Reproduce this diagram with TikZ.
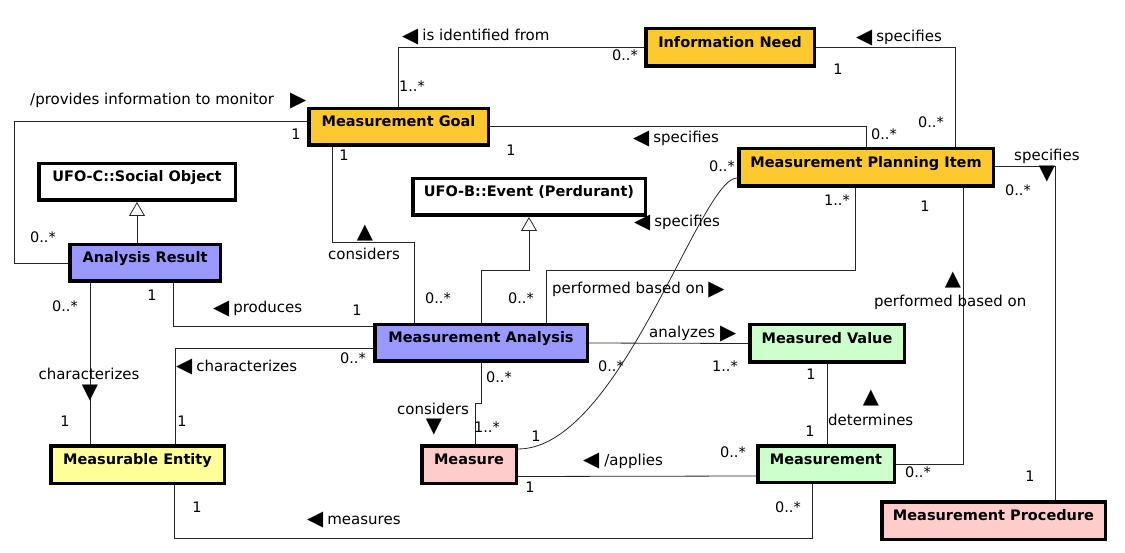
\documentclass[tikz,border=0pt]{standalone}
\usepackage{fontspec}
\setmainfont{DejaVu Sans}
\usetikzlibrary{arrows.meta}

\definecolor{goalorange}{RGB}{254,201,46}
\definecolor{analysisblue}{RGB}{153,153,255}
\definecolor{valuegreen}{RGB}{204,255,204}
\definecolor{measurepink}{RGB}{255,204,204}
\definecolor{entityyellow}{RGB}{255,255,153}

\newcommand\tril{\raisebox{-1.5pt}{\fontsize{21}{21}\selectfont ◀}}
\newcommand\trir{\raisebox{-1.5pt}{\fontsize{21}{21}\selectfont ▶}}
\newcommand\triu{{\fontsize{21}{21}\selectfont ▲}}
\newcommand\trid{{\fontsize{21}{21}\selectfont ▼}}

\tikzset{
  cls/.style={draw, line width=3.5pt, inner sep=0pt,
    font=\fontsize{14.5}{17}\selectfont\bfseries, text height=6pt, text depth=6pt},
  assoc/.style={draw=black!85, line width=0.8pt},
  gen/.style={assoc, -{Triangle[open, fill=white, width=16pt, length=14pt]}},
  lbl/.style={inner sep=0pt, font=\fontsize{15}{18}\selectfont, text height=11pt, text depth=3pt},
  mult/.style={lbl, font=\fontsize{14.5}{17}\selectfont},
  tri/.style={inner sep=0pt}
}

\begin{document}
\begin{tikzpicture}[x=1pt, y=-1pt]
  \useasboundingbox (0,0) rectangle (1125,553);

  % classes
  \node[cls, fill=goalorange, minimum width=168.5, minimum height=37.5] (infoneed) at (730,47.5) {Information Need};
  \node[cls, fill=goalorange, minimum width=179.5, minimum height=36.5] (mgoal) at (398.5,127) {Measurement Goal};
  \node[cls, fill=goalorange, minimum width=254.5, minimum height=37.5] (mpi) at (866,167.5) {Measurement Planning Item};
  \node[cls, fill=white, minimum width=196.5, minimum height=36.5] (socobj) at (137,182) {UFO-C::Social Object};
  \node[cls, fill=white, minimum width=232.5, minimum height=36.5] (event) at (529,197) {UFO-B::Event (Perdurant)};
  \node[cls, fill=analysisblue, minimum width=150.5, minimum height=36.5] (aresult) at (145,263) {Analysis Result};
  \node[cls, fill=analysisblue, minimum width=212.5, minimum height=36.5] (manalysis) at (481,343) {Measurement Analysis};
  \node[cls, fill=valuegreen, minimum width=154.5, minimum height=37.5] (mvalue) at (827,343.5) {Measured Value};
  \node[cls, fill=entityyellow, minimum width=173.5, minimum height=37.5] (mentity) at (137.5,464.5) {Measurable Entity};
  \node[cls, fill=measurepink, minimum width=94.5, minimum height=37.5] (measure) at (469,464.5) {Measure};
  \node[cls, fill=valuegreen, minimum width=136.5, minimum height=36.5] (measurement) at (826,464) {Measurement};
  \node[cls, fill=measurepink, minimum width=223.5, minimum height=37.5] (mproc) at (993.5,520.5) {Measurement Procedure};

  % associations
  \draw[assoc] (mgoal.north) |- (infoneed.west);
  \draw[assoc] (infoneed.east) -| ([xshift=89]mpi.north);
  \draw[assoc] ([yshift=1]mgoal.east) -| (mpi.north);
  \draw[assoc] ([yshift=6]mgoal.west) -- ++(-293,0) |- (aresult.west);
  \draw[assoc] ([xshift=-66.5]mgoal.south) |- ([xshift=-67,yshift=81]manalysis.north) -- ([xshift=-67]manalysis.north);
  \draw[assoc] ([xshift=65]manalysis.north) |- ([xshift=-11,yshift=-82]mpi.south) -- ([xshift=-11]mpi.south);
  \draw[assoc] ([xshift=28]aresult.south) |- ([yshift=17]manalysis.west);
  \draw[assoc] ([xshift=37.5]mentity.north) |- ([yshift=-5]manalysis.west);
  \draw[assoc] ([xshift=-55]aresult.south) -- ([xshift=-47.5]mentity.north);
  \draw[assoc] (manalysis.south) |- ([xshift=6,yshift=41]measure.north) -- ([xshift=6]measure.north);
  \draw[assoc] (manalysis.east) -- (mvalue.west);
  \draw[assoc] ([yshift=-12]measure.east) -- ([yshift=-12]measurement.west);
  \draw[assoc] (mvalue.south) -- (mvalue.south |- measurement.north);
  \draw[assoc] (measurement.east) -| ([xshift=97]mpi.south);
  \draw[assoc] ([yshift=1.5]mpi.east) -| ([xshift=61.5]mproc.north);
  \draw[assoc] ([xshift=37]mentity.south) |- ([xshift=-14,yshift=-54]measurement.south) -- ([xshift=-14]measurement.south);
  \draw[assoc] ([yshift=15.5]measure.east) .. controls +(102,0) and +(-37,0) .. ([yshift=-10.5]mpi.west);

  % generalizations
  \draw[gen] (socobj.south |- aresult.north) -- (socobj.south);
  \draw[gen] (manalysis.north) |- ([yshift=-53]event.south) -- (event.south);

  % association names
  \node[lbl, anchor=west] (lblident) at (402,37) {\tril\hspace{4pt}is identified from};
  \node[lbl, anchor=west] (lblspecinfo) at (856,38) {\tril\hspace{4pt}specifies};
  \node[lbl, anchor=west] (lblspecgoal) at (633,139) {\tril\hspace{4pt}specifies};
  \node[lbl, anchor=west] (lblprovides) at (30,101) {/provides information to monitor\hspace{16pt}\trir};
  \node[lbl] (lblconsup) at (364,256) {considers};
  \node[tri] (triconsup) at (365,233) {\triu};
  \node[lbl, anchor=west] (lblspecmeas) at (634,223) {\tril\hspace{4pt}specifies};
  \node[lbl, anchor=west] (lblperfleft) at (552,290) {performed based on\hspace{4pt}\trir};
  \node[lbl, anchor=west] (lblproduces) at (213,309) {\tril\hspace{4pt}produces};
  \node[lbl, anchor=west] (lblanalyzes) at (649,334) {analyzes\hspace{5pt}\trir};
  \node[lbl, anchor=west] (lblcharme) at (176,367) {\tril\hspace{4pt}characterizes};
  \node[lbl] (lblcharar) at (89,376) {characterizes};
  \node[tri] (tricharar) at (90,393) {\trid};
  \node[lbl] (lblconsdown) at (433,410) {considers};
  \node[tri] (triconsdown) at (434,427) {\trid};
  \node[lbl, anchor=west] (lblapplies) at (583,461) {\tril\hspace{5pt}/applies};
  \node[tri] (tridetermines) at (871,398) {\triu};
  \node[lbl, anchor=west] (lbldetermines) at (828,421) {determines};
  \node[tri] (triperfright) at (953,280) {\triu};
  \node[lbl, anchor=west] (lblperfright) at (874,303) {performed based on};
  \node[lbl, anchor=west] (lblspecproc) at (1014,157) {specifies};
  \node[tri] (trispecproc) at (1047,174) {\trid};
  \node[lbl, anchor=west] (lblmeasures) at (307,520) {\tril\hspace{4pt}measures};

  % multiplicities
  \node[mult] (m1) at (412,88) {1..*};
  \node[mult] (m2) at (625,57) {0..*};
  \node[mult] (m3) at (838,71) {1};
  \node[mult] (m4) at (931,124) {0..*};
  \node[mult] (m5) at (884,136) {0..*};
  \node[mult] (m6) at (511,152) {1};
  \node[mult] (m7) at (296,136) {1};
  \node[mult] (m8) at (43,239) {0..*};
  \node[mult] (m9) at (344,157) {1};
  \node[mult] (m10) at (722,168) {0..*};
  \node[mult] (m11) at (837,202) {1..*};
  \node[mult] (m12) at (925,208) {1};
  \node[mult] (m13) at (1018,192) {0..*};
  \node[mult] (m14) at (65,308) {0..*};
  \node[mult] (m15) at (152,297) {1};
  \node[mult] (m16) at (357,312) {1};
  \node[mult] (m17) at (438,300) {0..*};
  \node[mult] (m18) at (521,300) {0..*};
  \node[mult] (m19) at (353,359) {0..*};
  \node[mult] (m20) at (611,368) {0..*};
  \node[mult] (m21) at (725,368) {1..*};
  \node[mult] (m22) at (499,378) {0..*};
  \node[mult] (m23) at (487,428) {1..*};
  \node[mult] (m24) at (536,437) {1};
  \node[mult] (m25) at (530,488) {1};
  \node[mult] (m26) at (733,453) {0..*};
  \node[mult] (m27) at (811,376) {1};
  \node[mult] (m28) at (810,432) {1};
  \node[mult] (m29) at (918,473) {0..*};
  \node[mult] (m30) at (788,508) {0..*};
  \node[mult] (m31) at (197,508) {1};
  \node[mult] (m32) at (65,422) {1};
  \node[mult] (m33) at (182,422) {1};
  \node[mult] (m34) at (1030,477) {1};
\end{tikzpicture}
\end{document}
